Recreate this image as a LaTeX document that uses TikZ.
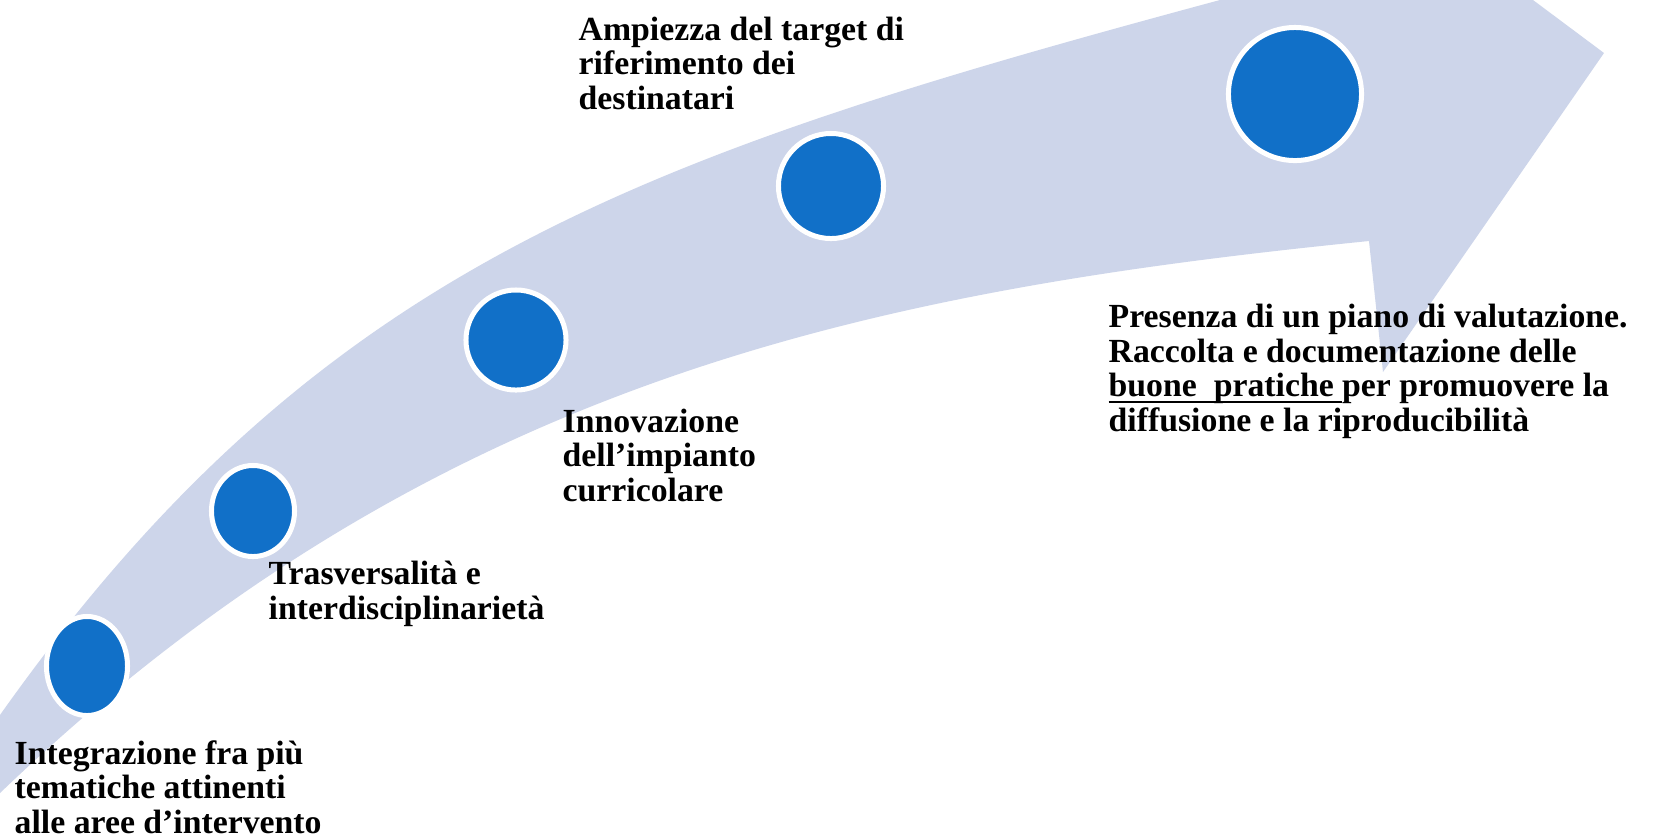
\documentclass[tikz,border=0pt]{standalone}
\usepackage{fontspec}
\setmainfont{Liberation Serif}
\usepackage{tikz}
\usetikzlibrary{shapes.geometric}

\definecolor{band}{HTML}{CDD5EA}
\definecolor{dotblue}{HTML}{1170C8}

\newsavebox\ulbox
\newcommand\ulined[1]{\sbox\ulbox{#1}\rlap{\rule[-0.2em]{\wd\ulbox}{0.06em}}\usebox\ulbox}

\tikzset{
  dot/.style={ellipse, draw=white, line width=0.05cm, fill=dotblue, inner sep=0pt},
  lbl/.style={anchor=base west, align=left, inner sep=0pt, font=\fontsize{9.6pt}{9.8pt}\selectfont\bfseries}
}

\begin{document}
\begin{tikzpicture}[x=0.01cm, y=-0.01cm]
\useasboundingbox (0,0) rectangle (1653,838);
\fill[white] (0,0) rectangle (1653,838);

\fill[band] (0,715) .. controls (318,266) and (641,156) .. (1220,0) -- (1533,0) -- (1604,53)
  -- (1383,372) -- (1369,241) .. controls (872,291) and (432,379) .. (0,793) -- cycle;

\node[dot, minimum width=0.81cm, minimum height=0.99cm] (P1) at (87,666)  {};
\node[dot, minimum width=0.83cm, minimum height=0.91cm] (P2) at (253,511) {};
\node[dot, minimum width=1cm, minimum height=1cm]       (P3) at (516,340) {};
\node[dot, minimum width=1.05cm, minimum height=1.05cm] (P4) at (831,186) {};
\node[dot, minimum width=1.33cm, minimum height=1.33cm] (P5) at (1295,94) {};

% anchors sit on the last line
\node[lbl] (L1) at (14,833)   {Integrazione fra più\\tematiche attinenti\\alle aree d’intervento};
\node[lbl] (L2) at (268,619)  {Trasversalità e\\interdisciplinarietà};
\node[lbl] (L3) at (562,501)  {Innovazione\\dell’impianto\\curricolare};
\node[lbl] (L4) at (578,109)  {Ampiezza del target di\\riferimento dei\\destinatari};
\node[lbl] (L5) at (1108,431) {Presenza di un piano di valutazione.\\Raccolta e documentazione delle\\\ulined{buone\ \ pratiche\ }per promuovere la\\diffusione e la riproducibilità};
\end{tikzpicture}
\end{document}
